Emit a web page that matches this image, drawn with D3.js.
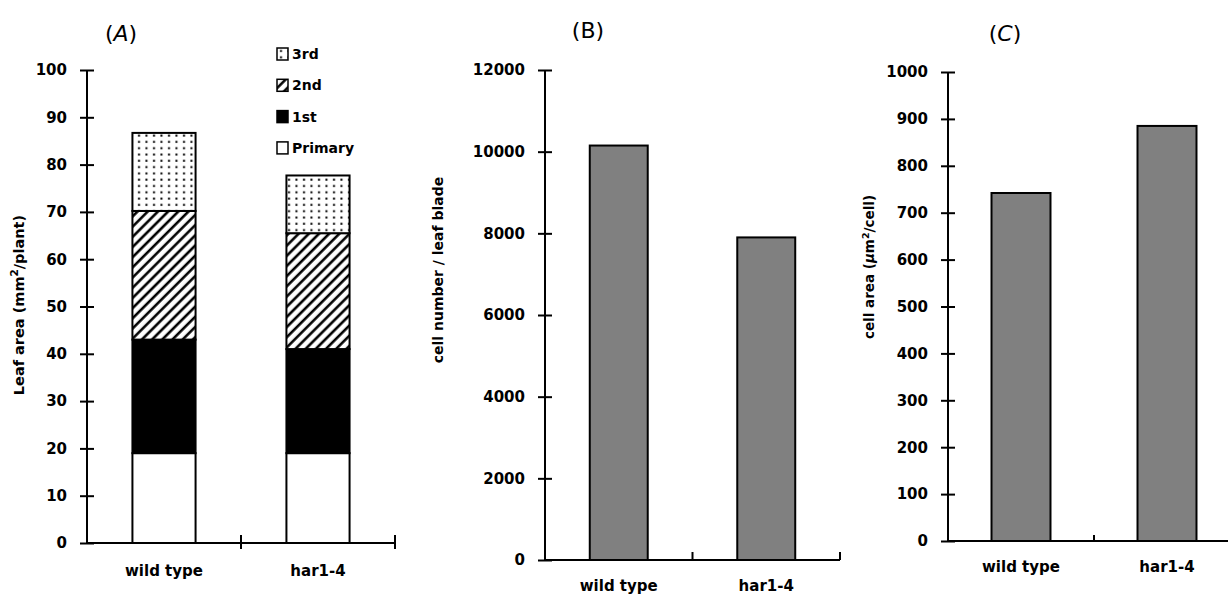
<!DOCTYPE html>
<html>
<head>
<meta charset="utf-8">
<script src="https://cdn.jsdelivr.net/npm/d3@7"></script>
<style>
  body { margin: 0; background: #fff; }
  svg text { font-family: "DejaVu Sans", sans-serif; font-weight: 700; fill: #000; }
</style>
</head>
<body>
<svg width="1228" height="596"></svg>
<script>
// --- Data ---
const genotypes = ["wild type", "har1-4"];
const leafParts = ["Primary", "1st", "2nd", "3rd"];
const primaryArea = [19, 19];
const firstArea = [24, 22];
const secondArea = [27.2, 24.5];
const thirdArea = [16.5, 12.2];
const cellNumber = [10150, 7900];
const cellArea = [742, 885];
const ticksA = d3.range(0, 101, 10);
const ticksB = d3.range(0, 12001, 2000);
const ticksC = d3.range(0, 1001, 100);

const svg = d3.select("svg");
const defs = svg.append("defs");

// --- Patterns ---
const dots = defs.append("pattern").attr("id", "dots")
  .attr("patternUnits", "userSpaceOnUse").attr("width", 7.5).attr("height", 6.3);
dots.append("rect").attr("width", 7.5).attr("height", 6.3).attr("fill", "#fff");
dots.append("rect").attr("x", 3).attr("y", 2.3).attr("width", 2).attr("height", 2).attr("fill", "#000");

const hatch = defs.append("pattern").attr("id", "hatch")
  .attr("patternUnits", "userSpaceOnUse").attr("width", 7.2).attr("height", 10)
  .attr("patternTransform", "rotate(45)");
hatch.append("rect").attr("width", 7.2).attr("height", 10).attr("fill", "#fff");
hatch.append("line").attr("x1", 2).attr("x2", 2).attr("y1", 0).attr("y2", 10)
  .attr("stroke", "#000").attr("stroke-width", 2.6);

const partFill = { "Primary": "#fff", "1st": "#000", "2nd": "url(#hatch)", "3rd": "url(#dots)" };

// --- Helpers ---
function drawYAxis(y, x0, ticks) {
  const g = svg.append("g").attr("transform", `translate(${x0},0)`)
    .call(d3.axisLeft(y).tickValues(ticks).tickFormat(d3.format("d"))
      .tickSizeInner(7).tickSizeOuter(0).tickPadding(13));
  g.select(".domain").remove();
  g.selectAll(".tick line").attr("x1", -7).attr("x2", 7).attr("stroke-width", 2);
  g.selectAll(".tick text").style("font-size", "15px");
  g.append("line").attr("y1", y.range()[0]).attr("y2", y.range()[1])
    .attr("stroke", "#000").attr("stroke-width", 2);
}

function drawXAxis(x, y0, tickUp, tickDown, labelY) {
  const [a, b] = x.range();
  const g = svg.append("g");
  g.append("line").attr("x1", a).attr("x2", b).attr("y1", y0).attr("y2", y0)
    .attr("stroke", "#000").attr("stroke-width", 2);
  g.selectAll("line.tk").data(d3.range(1, x.domain().length + 1)).enter()
    .append("line").attr("class", "tk")
    .attr("x1", i => a + i * x.step()).attr("x2", i => a + i * x.step())
    .attr("y1", y0 - tickUp).attr("y2", y0 + tickDown)
    .attr("stroke", "#000").attr("stroke-width", 2);
  g.selectAll("text").data(x.domain()).enter().append("text")
    .attr("x", d => x(d) + x.bandwidth() / 2).attr("y", labelY)
    .attr("text-anchor", "middle").style("font-size", "15px").text(d => d);
}

function yLabel(x, y, size, parts) {
  const t = svg.append("text").attr("transform", `translate(${x},${y}) rotate(-90)`)
    .attr("text-anchor", "middle").style("font-size", size + "px");
  parts.forEach(p => {
    const s = t.append("tspan").text(p.t);
    if (p.sup) s.attr("baseline-shift", "super").style("font-size", (size - 4) + "px");
    if (p.it) s.style("font-style", "italic");
  });
}

function title(x, y, letter, italic) {
  const t = svg.append("text").attr("x", x).attr("y", y).attr("text-anchor", "middle")
    .style("font-size", "22px").style("font-weight", "400");
  t.append("tspan").text("(");
  t.append("tspan").text(letter).style("font-style", italic ? "italic" : "normal");
  t.append("tspan").text(")");
}

// --- Panel A: stacked leaf area ---
const xA = d3.scaleBand().domain(genotypes).range([87, 395]).paddingInner(0.59).paddingOuter(0.295);
const yA = d3.scaleLinear().domain([0, 100]).range([543, 70]);
const rowsA = genotypes.map((g, i) => ({
  genotype: g, "Primary": primaryArea[i], "1st": firstArea[i], "2nd": secondArea[i], "3rd": thirdArea[i]
}));
const stackA = d3.stack().keys(leafParts)(rowsA);

svg.append("g").selectAll("g").data(stackA).enter().append("g")
  .attr("fill", s => partFill[s.key])
  .selectAll("rect").data(s => s).enter().append("rect")
    .attr("x", d => xA(d.data.genotype))
    .attr("y", d => yA(d[1]))
    .attr("width", xA.bandwidth())
    .attr("height", d => yA(d[0]) - yA(d[1]))
    .attr("stroke", "#000").attr("stroke-width", 2);

drawYAxis(yA, 87, ticksA);
drawXAxis(xA, 543, 8, 6, 576);
yLabel(24, 305, 14.5, [{ t: "Leaf area (mm" }, { t: "2", sup: true }, { t: "/plant)" }]);
title(121, 41, "A", true);

// legend
const legend = svg.append("g").selectAll("g").data(leafParts.slice().reverse()).enter().append("g")
  .attr("transform", (d, i) => `translate(277,${54 + i * 31.3})`);
legend.append("rect").attr("x", 0).attr("y", -6).attr("width", 11).attr("height", 12)
  .attr("fill", d => partFill[d]).attr("stroke", "#000").attr("stroke-width", 1.5);
legend.append("text").attr("x", 15).attr("y", 5).style("font-size", "14px").text(d => d);

// --- Panel B: cell number ---
const xB = d3.scaleBand().domain(genotypes).range([545, 840]).paddingInner(0.607).paddingOuter(0.3035);
const yB = d3.scaleLinear().domain([0, 12000]).range([560, 70]);
svg.append("g").selectAll("rect").data(genotypes).enter().append("rect")
  .attr("x", d => xB(d)).attr("y", (d, i) => yB(cellNumber[i]))
  .attr("width", xB.bandwidth()).attr("height", (d, i) => yB(0) - yB(cellNumber[i]))
  .attr("fill", "#808080").attr("stroke", "#000").attr("stroke-width", 2);
drawYAxis(yB, 545, ticksB);
drawXAxis(xB, 560, 8, 0, 591);
yLabel(443, 270, 14, [{ t: "cell number / leaf blade" }]);
title(588, 38, "B", false);

// --- Panel C: cell area ---
const xC = d3.scaleBand().domain(genotypes).range([948, 1240]).paddingInner(0.596).paddingOuter(0.298);
const yC = d3.scaleLinear().domain([0, 1000]).range([541, 72]);
svg.append("g").selectAll("rect").data(genotypes).enter().append("rect")
  .attr("x", d => xC(d)).attr("y", (d, i) => yC(cellArea[i]))
  .attr("width", xC.bandwidth()).attr("height", (d, i) => yC(0) - yC(cellArea[i]))
  .attr("fill", "#808080").attr("stroke", "#000").attr("stroke-width", 2);
drawYAxis(yC, 948, ticksC);
drawXAxis(xC, 541, 6, 0, 572);
yLabel(874, 267, 13.5, [{ t: "cell area  (" }, { t: "μ", it: true }, { t: "m" }, { t: "2", sup: true }, { t: "/cell)" }]);
title(1005, 41, "C", true);
</script>
</body>
</html>
